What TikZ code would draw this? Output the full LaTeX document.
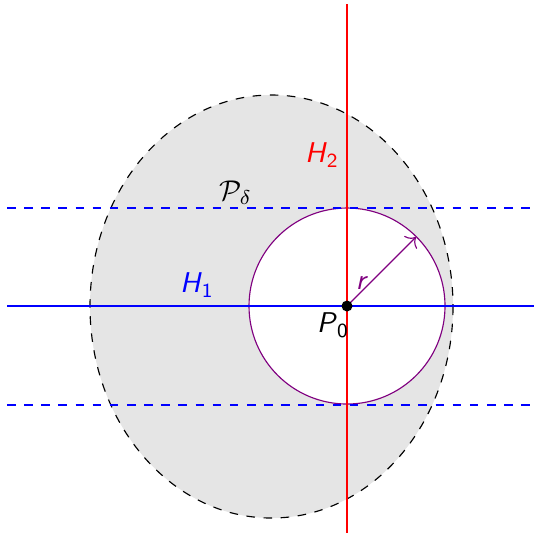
\documentclass[tikz,border=0pt]{standalone}
\usetikzlibrary{arrows.meta}
\definecolor{rpurple}{RGB}{128,0,128}
\newcommand{\sfi}[1]{\textsf{\itshape #1}}
\begin{document}
\begin{tikzpicture}[x=0.35pt,y=-0.35pt,
  hline/.style={blue,line width=0.75pt},
  vline/.style={red,line width=0.55pt},
  bdash/.style={color=blue,dashed,line width=0.38pt},
  lbl/.style={inner sep=0pt}]
\useasboundingbox (0,0) rectangle (534,533);
% region
\draw[dashed,fill=black!10,line width=0.4pt] (271.5,306.5) ellipse [x radius=181.5,y radius=211.5];
\coordinate (P0) at (347,306);
\draw[rpurple,fill=white,line width=0.4pt] (P0) circle [radius=98];
% lines
\coordinate (hL) at (7,306); \coordinate (hR) at (534,306);
\coordinate (vT) at (347,4); \coordinate (vB) at (347,533);
\coordinate (dL1) at (7,208); \coordinate (dR1) at (534,208);
\coordinate (dL2) at (7,405); \coordinate (dR2) at (534,405);
\draw[bdash] (dL1) -- (dR1);
\draw[bdash] (dL2) -- (dR2);
\draw[hline] (hL) -- (hR);
\draw[vline] (vT) -- (vB);
% radius arrow
\coordinate (Rend) at (416.3,236.7);
\draw[rpurple,line width=0.4pt,-{To[length=3pt]}] (P0) -- (Rend);
\fill (P0) circle [radius=5.5];
% labels
\node[lbl,red] (H2) at (322,155) {\sfi{H}$_{\mathsf{2}}$};
\node[lbl] (Pd) at (236,193) {$\mathcal{P}_{\delta}$};
\node[lbl,blue] (H1) at (197,285) {\sfi{H}$_{\mathsf{1}}$};
\node[lbl,rpurple] (r) at (362,283) {\sfi{r}};
\node[lbl] (P0l) at (333,325) {\sfi{P}$_{\mathsf{0}}$};
\end{tikzpicture}
\end{document}
